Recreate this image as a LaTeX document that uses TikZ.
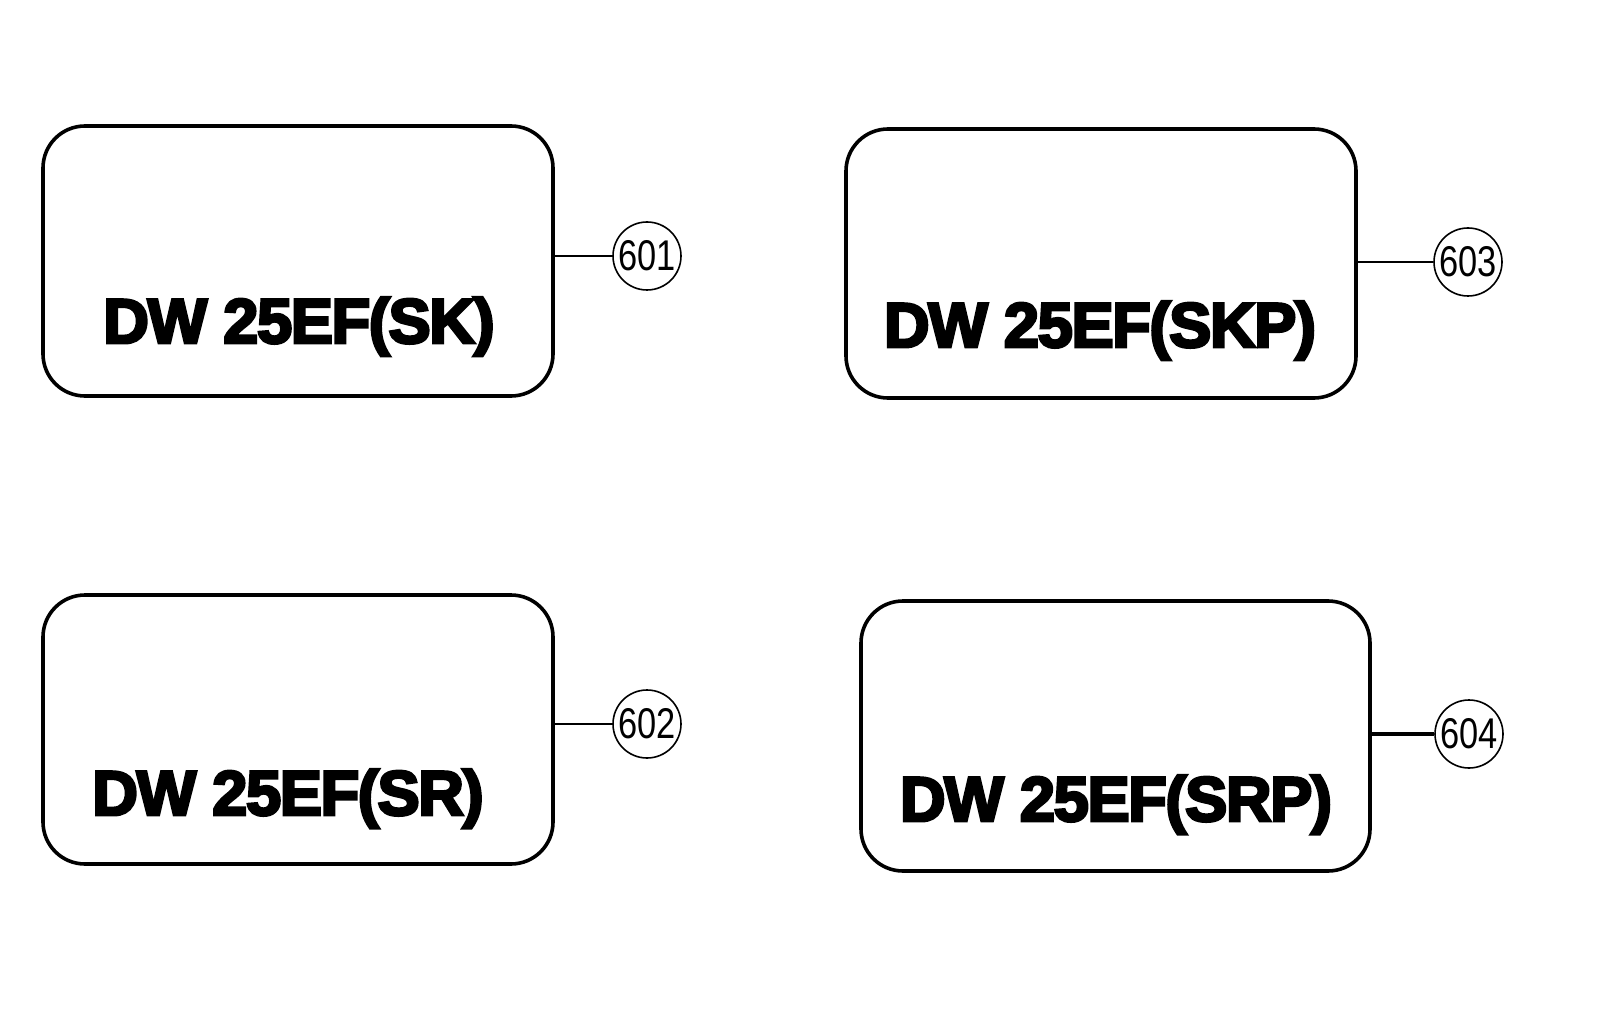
\documentclass[tikz,border=0pt]{standalone}
\usepackage{fontspec}
\setmainfont{Liberation Sans}
\newfontfamily\heavyfont[FakeBold=4.5,LetterSpace=-2]{Liberation Sans Bold}
\begin{document}
\begin{tikzpicture}[x=0.5pt,y=-0.5pt,
  plate/.style={draw=black,line width=1.8pt,rounded corners=21pt},
  platetext/.style={font=\heavyfont\fontsize{31.5}{31.5}\selectfont,inner sep=0pt,anchor=base},
  callout/.style={draw=black,circle,line width=0.8pt,minimum size=34pt,inner sep=0pt,
    font=\fontsize{21.5}{21.5}\selectfont},
  lead/.style={draw=black,line width=1pt}]
\useasboundingbox (0,0) rectangle (1600,1021);
% plates
\draw[plate] (43,126) rectangle (553,396);
\draw[plate] (846,129) rectangle (1356,398);
\draw[plate] (43,595) rectangle (553,864);
\draw[plate] (861,601) rectangle (1370,871);
\coordinate (p1) at (553,256);
\coordinate (p3) at (1356,262);
\coordinate (p2) at (553,724);
\coordinate (p4) at (1370,734);
\node[platetext] (t1) at (299,343) {DW 25EF(SK)};
\node[platetext] (t3) at (1100,347) {DW 25EF(SKP)};
\node[platetext] (t2) at (288,815) {DW 25EF(SR)};
\node[platetext] (t4) at (1116,821) {DW 25EF(SRP)};
% callouts
\node[callout] (c1) at (647,256) {\scalebox{0.8}[1]{601}};
\node[callout] (c3) at (1468,262) {\scalebox{0.8}[1]{603}};
\node[callout] (c2) at (647,724) {\scalebox{0.8}[1]{602}};
\node[callout] (c4) at (1469,734) {\scalebox{0.8}[1]{604}};
\draw[lead] (p1) -- (c1);
\draw[lead] (p3) -- (c3);
\draw[lead] (p2) -- (c2);
\draw[lead,line width=1.6pt] (p4) -- (c4);
\end{tikzpicture}
\end{document}
